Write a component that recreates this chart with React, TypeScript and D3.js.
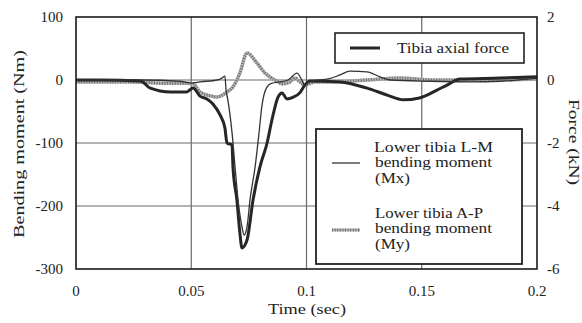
import React from "react";
import * as d3 from "d3";

// ---- Data ----
const forceT = [0, 0.0104, 0.028, 0.032, 0.041, 0.048, 0.0508, 0.0538, 0.0568, 0.0594, 0.0625, 0.0646, 0.0655, 0.0677, 0.0681, 0.0698, 0.0711, 0.072, 0.0742, 0.0768, 0.0798, 0.0829, 0.085, 0.0876, 0.0894, 0.0915, 0.0941, 0.0972, 0.0993, 0.1015, 0.1145, 0.126, 0.135, 0.142, 0.149, 0.1566, 0.161, 0.1666, 0.184, 0.2];
const forceKN = [0, 0, -0.03, -0.25, -0.38, -0.38, -0.25, -0.51, -0.6, -0.76, -1.11, -1.52, -2.0, -2.06, -2.76, -3.81, -4.86, -5.33, -5.08, -3.81, -2.76, -2.0, -1.27, -0.55, -0.41, -0.6, -0.55, -0.4, -0.16, -0.03, -0.06, -0.25, -0.48, -0.63, -0.57, -0.32, -0.16, 0.03, 0.06, 0.1];

const mxT = [0, 0.028, 0.045, 0.0503, 0.0538, 0.0612, 0.0633, 0.0646, 0.0651, 0.0659, 0.0677, 0.069, 0.0703, 0.072, 0.0729, 0.0742, 0.0755, 0.0777, 0.0794, 0.0807, 0.0829, 0.085, 0.0885, 0.092, 0.0959, 0.098, 0.0993, 0.1015, 0.11, 0.1145, 0.1189, 0.1262, 0.1319, 0.1362, 0.1536, 0.171, 0.184, 0.2];
const mxNm = [0, 0, -2, -5, -3, 0, 3, 6, -16, -32, -84, -138, -190, -233, -246, -233, -190, -138, -84, -40, -11, -5, -3, 0, 11, 0, -8, -2, 2, 8, 14, 13, 5, 0, -2, -3, -2, 3];

const myT = [0, 0.0234, 0.0377, 0.048, 0.0508, 0.0538, 0.0581, 0.0612, 0.0655, 0.0681, 0.0711, 0.0742, 0.0785, 0.082, 0.0863, 0.0898, 0.0928, 0.095, 0.0972, 0.0993, 0.1037, 0.1115, 0.1262, 0.1406, 0.1549, 0.171, 0.184, 0.2];
const myNm = [-3, -3, -5, -5, -6, -19, -25, -27, -19, -11, 11, 43, 27, 11, 0, -6, -3, 3, -3, -8, -3, -3, 0, 3, 0, 0, 0, 2];

const xTicks = [0, 0.05, 0.1, 0.15, 0.2];
const xTickLabels = ["0", "0.05", "0.1", "0.15", "0.2"];
const yLeftTicks = [100, 0, -100, -200, -300];
const yRightTicks = [2, 0, -2, -4, -6];
const gridY = [0, -100, -200];
const gridX = [0.05, 0.1, 0.15];

const W = 582, H = 323;
const L = 76, R = 537, T = 17, B = 269;

export default function App() {
  const x = d3.scaleLinear().domain([0, 0.2]).range([L, R]);
  const yL = d3.scaleLinear().domain([-300, 100]).range([B, T]);
  const yR = d3.scaleLinear().domain([-6, 2]).range([B, T]);

  const lineL = d3.line<[number, number]>().x(d => x(d[0])).y(d => yL(d[1])).curve(d3.curveMonotoneX);
  const lineR = d3.line<[number, number]>().x(d => x(d[0])).y(d => yR(d[1])).curve(d3.curveMonotoneX);

  const forceD = lineR(forceT.map((t, i) => [t, forceKN[i]] as [number, number])) || "";
  const mxD = lineL(mxT.map((t, i) => [t, mxNm[i]] as [number, number])) || "";
  const myD = lineL(myT.map((t, i) => [t, myNm[i]] as [number, number])) || "";

  const font = "'Liberation Serif', 'Times New Roman', serif";
  const txt = "#222";

  return (
    <svg width={W} height={H} style={{ position: "absolute", left: 0, top: 0, background: "#fff" }} fontFamily={font}>
      <rect x={0} y={0} width={W} height={H} fill="#fff" />
      {/* gridlines */}
      {gridY.map(v => (
        <line key={"gy" + v} x1={L} x2={R} y1={yL(v)} y2={yL(v)} stroke="#6a6a6a" strokeWidth={1.2} />
      ))}
      {gridX.map(v => (
        <line key={"gx" + v} x1={x(v)} x2={x(v)} y1={T} y2={B} stroke="#6a6a6a" strokeWidth={1.2} />
      ))}
      {/* series */}
      <path d={myD} fill="none" stroke="#b4b4b4" strokeWidth={3.5} strokeLinejoin="round" />
      <path d={myD} fill="none" stroke="#6e6e6e" strokeWidth={3.2} strokeDasharray="1 1.6" />
      <path d={forceD} fill="none" stroke="#262626" strokeWidth={3} strokeLinejoin="round" />
      <path d={mxD} fill="none" stroke="#333" strokeWidth={1.3} strokeLinejoin="round" />
      {/* frame */}
      <rect x={L} y={T} width={R - L} height={B - T} fill="none" stroke="#1a1a1a" strokeWidth={1.6} />

      {/* left ticks */}
      {yLeftTicks.map(v => (
        <text key={"yl" + v} x={63} y={yL(v) + 5} textAnchor="end" fontSize={15} fill={txt}>{String(v)}</text>
      ))}
      {yRightTicks.map(v => (
        <text key={"yr" + v} x={547} y={yR(v) + 5} textAnchor="start" fontSize={15} fill={txt}>{String(v)}</text>
      ))}
      {xTicks.map((v, i) => (
        <text key={"xt" + v} x={x(v)} y={296} textAnchor="middle" fontSize={15} fill={txt}>{xTickLabels[i]}</text>
      ))}

      {/* axis titles */}
      <text x={307} y={314} textAnchor="middle" fontSize={15.5} fill={txt} textLength={78} lengthAdjust="spacingAndGlyphs">Time (sec)</text>
      <text transform={`translate(24,144) rotate(-90)`} textAnchor="middle" fontSize={15.5} fill={txt} textLength={188} lengthAdjust="spacingAndGlyphs">Bending moment (Nm)</text>
      <text transform={`translate(569,142) rotate(90)`} textAnchor="middle" fontSize={15.5} fill={txt} textLength={86} lengthAdjust="spacingAndGlyphs">Force (kN)</text>

      {/* legend 1 */}
      <rect x={335} y={33} width={189} height={30} fill="#fff" stroke="#222" strokeWidth={1.6} />
      <line x1={350} x2={380} y1={48} y2={48} stroke="#262626" strokeWidth={3} />
      <text x={397} y={53} fontSize={14.5} fill={txt} textLength={112} lengthAdjust="spacingAndGlyphs">Tibia axial force</text>

      {/* legend 2 */}
      <rect x={316} y={129} width={206} height={135} fill="#fff" stroke="#222" strokeWidth={1.8} />
      <line x1={332} x2={360} y1={163} y2={163} stroke="#333" strokeWidth={1.3} />
      <line x1={332} x2={360} y1={230} y2={230} stroke="#b4b4b4" strokeWidth={3} />
      <line x1={332} x2={360} y1={230} y2={230} stroke="#6e6e6e" strokeWidth={3} strokeDasharray="1 1.6" />
      <text x={374} y={152} fontSize={14.5} fill={txt} textLength={119} lengthAdjust="spacingAndGlyphs">Lower tibia L-M</text>
      <text x={375} y={167} fontSize={14.5} fill={txt} textLength={117} lengthAdjust="spacingAndGlyphs">bending moment</text>
      <text x={375} y={183} fontSize={14.5} fill={txt} textLength={35} lengthAdjust="spacingAndGlyphs">(Mx)</text>
      <text x={375} y={218} fontSize={14.5} fill={txt} textLength={108} lengthAdjust="spacingAndGlyphs">Lower tibia A-P</text>
      <text x={375} y={233} fontSize={14.5} fill={txt} textLength={117} lengthAdjust="spacingAndGlyphs">bending moment</text>
      <text x={375} y={249} fontSize={14.5} fill={txt} textLength={35} lengthAdjust="spacingAndGlyphs">(My)</text>
    </svg>
  );
}
